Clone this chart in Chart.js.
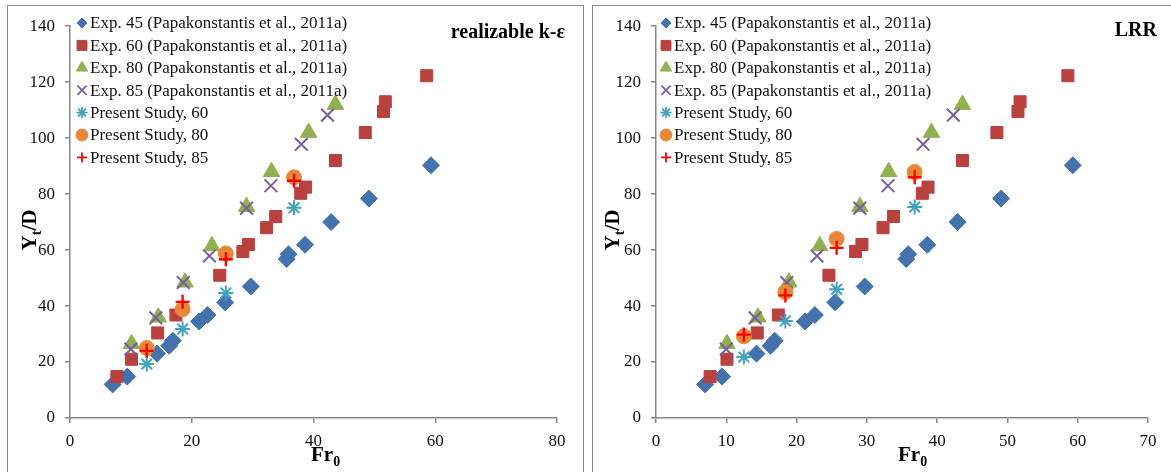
<!DOCTYPE html>
<html>
<head>
<meta charset="utf-8">
<script src="https://cdn.jsdelivr.net/npm/chart.js@4.4.1/dist/chart.umd.min.js"></script>
<style>
  body { margin: 0; background: #fff; width: 1171px; height: 472px; overflow: hidden; position: relative; }
  .box { position: absolute; border: 1px solid #8a8a8a; box-sizing: border-box; background: #fff; }
  canvas { position: absolute; }
</style>
</head>
<body>
<div class="box" style="left:7px; top:5px; width:577px; height:480px;"></div>
<div class="box" style="left:592px; top:5px; width:600px; height:480px;"></div>
<canvas id="leftChart" style="left:8px; top:6px; width:574px; height:466px;" width="574" height="466"></canvas>
<canvas id="rightChart" style="left:593px; top:6px; width:578px; height:466px;" width="578" height="466"></canvas>

<script>
// experimental data (same in both panels)
const exp45X = [7, 9.4, 14.3, 16.3, 16.9, 21.2, 22.6, 25.5, 29.7, 35.6, 35.9, 38.6, 42.9, 49.1, 59.3];
const exp45Y = [12, 14.8, 23, 25.8, 27.6, 34.5, 36.8, 41.3, 47, 56.8, 58.5, 61.9, 70, 78.4, 90.3];

const exp60X = [7.7, 10.1, 14.4, 17.4, 24.6, 28.4, 29.3, 32.3, 33.8, 37.9, 38.7, 43.6, 48.5, 51.5, 51.8, 58.6];
const exp60Y = [14.8, 21, 30.4, 36.8, 51, 59.5, 62, 68, 72, 80.3, 82.5, 92, 102, 109.5, 113, 122.3];

const exp80X = [10.1, 14.5, 18.9, 23.3, 29, 33.1, 39.2, 43.6];
const exp80Y = [26.5, 36, 48.5, 61.5, 75.5, 88, 102, 112];

const exp85X = [10, 14.1, 18.6, 22.9, 29, 33, 38, 42.3];
const exp85Y = [24.6, 35.8, 48.4, 57.9, 75, 83, 97.8, 108.2];

// present study, realizable k-epsilon
const rkeX = [12.6, 18.5, 25.6, 36.8];
const rke60Y = [19.3, 31.8, 44.7, 75.1];
const rke80Y = [25, 38.9, 58.8, 86];
const rke85Y = [24, 41.5, 56.7, 84.8];

// present study, LRR
const lrrX = [12.5, 18.4, 25.7, 36.8];
const lrr60Y = [21.8, 34.7, 46, 75.4];
const lrr80Y = [29.2, 45, 64, 87.9];
const lrr85Y = [29.8, 43.8, 60.8, 86];

const seriesLabels = [
  'Exp. 45 (Papakonstantis et al., 2011a)',
  'Exp. 60 (Papakonstantis et al., 2011a)',
  'Exp. 80 (Papakonstantis et al., 2011a)',
  'Exp. 85 (Papakonstantis et al., 2011a)',
  'Present Study, 60',
  'Present Study, 80',
  'Present Study, 85'
];

const yTicks = [0, 20, 40, 60, 80, 100, 120, 140];

const SERIF = "'Liberation Serif', 'Times New Roman', serif";

function pts(xs, ys) {
  return xs.map((x, i) => ({ x: x, y: ys[i] }));
}

// marker look per series: style, colour, radius, legend radius, line width, filled
const looks = [
  { style: 'rectRot',  color: '#4472ad', r: 8.5, lr: 5,   w: 1, fill: true },
  { style: 'rect',     color: '#b9413e', r: 8.5, lr: 7,   w: 1, fill: true },
  { style: 'triangle', color: '#8fb14f', r: 9.5, lr: 6.5, w: 1, fill: true },
  { style: 'crossRot', color: '#7a5c9c', r: 9,   lr: 6.5, w: 2, fill: false },
  { style: 'star',     color: '#41a3bd', r: 7.5, lr: 5.5, w: 2, fill: false },
  { style: 'circle',   color: '#e8873a', r: 7.5, lr: 6,   w: 1, fill: true },
  { style: 'cross',    color: '#ff0000', r: 7,   lr: 5,   w: 2.4, fill: false }
];

function buildDatasets(dataSets) {
  return dataSets.map((d, i) => {
    const lk = looks[i];
    return {
      label: seriesLabels[i],
      data: d,
      showLine: false,
      pointStyle: lk.style,
      pointRadius: lk.r,
      pointBackgroundColor: lk.fill ? lk.color : 'rgba(0,0,0,0)',
      pointBorderColor: lk.color,
      pointBorderWidth: lk.w,
      order: 10 - i
    };
  });
}

// legend, corner title and axis titles with subscripts
const overlayPlugin = {
  id: 'overlay',
  afterDraw(chart, args, opts) {
    const ctx = chart.ctx;
    ctx.save();

    chart.data.datasets.forEach((ds, i) => {
      const y = opts.legendTop + i * 22.4;
      const lk = looks[i];
      ctx.fillStyle = lk.color;
      ctx.strokeStyle = lk.color;
      ctx.lineWidth = lk.fill ? 1 : 1.8;
      if (Chart.helpers && Chart.helpers.drawPoint) {
        Chart.helpers.drawPoint(ctx, { pointStyle: lk.style, radius: lk.lr, rotation: 0, borderWidth: 1 }, opts.legendX, y);
      }
      ctx.fillStyle = '#111';
      ctx.font = '17px ' + SERIF;
      ctx.textAlign = 'left';
      ctx.textBaseline = 'middle';
      ctx.fillText(ds.label, opts.legendX + 8, y + 1);
    });

    // panel title
    ctx.fillStyle = '#000';
    ctx.font = 'bold 20px ' + SERIF;
    ctx.textAlign = 'right';
    ctx.textBaseline = 'middle';
    ctx.fillText(opts.title, opts.titleX, opts.titleY);

    // x axis title: Fr0
    ctx.textAlign = 'left';
    ctx.textBaseline = 'alphabetic';
    ctx.font = 'bold 21px ' + SERIF;
    const frW = ctx.measureText('Fr').width;
    ctx.fillText('Fr', opts.xTitleX, opts.xTitleY);
    ctx.font = 'bold 14px ' + SERIF;
    ctx.fillText('0', opts.xTitleX + frW, opts.xTitleY + 5);

    // y axis title: Yt/D
    ctx.translate(opts.yTitleX, opts.yTitleY);
    ctx.rotate(-Math.PI / 2);
    ctx.font = 'bold 21px ' + SERIF;
    const yW = ctx.measureText('Y').width;
    ctx.font = 'bold 14px ' + SERIF;
    const tW = ctx.measureText('t').width;
    ctx.font = 'bold 21px ' + SERIF;
    const dW = ctx.measureText('/D').width;
    let x0 = -(yW + tW + dW) / 2;
    ctx.fillText('Y', x0, 7);
    ctx.font = 'bold 14px ' + SERIF;
    ctx.fillText('t', x0 + yW, 12);
    ctx.font = 'bold 21px ' + SERIF;
    ctx.fillText('/D', x0 + yW + tW, 7);

    ctx.restore();
  }
};

function makeChart(id, xMax, xStep, dataSets, overlay, yWidth, rightPad) {
  const axisColor = '#878787';
  return new Chart(document.getElementById(id), {
    type: 'scatter',
    data: { datasets: buildDatasets(dataSets) },
    options: {
      responsive: false,
      animation: false,
      events: [],
      layout: { padding: { top: 15, right: rightPad, left: 0, bottom: 0 } },
      plugins: {
        legend: { display: false },
        tooltip: { enabled: false },
        overlay: overlay
      },
      scales: {
        x: {
          type: 'linear',
          min: 0,
          max: xMax,
          afterFit: (s) => { s.height = 54; },
          ticks: { stepSize: xStep, color: '#111', padding: 8, font: { family: SERIF, size: 17 } },
          grid: { drawOnChartArea: false, drawTicks: true, tickLength: 5, color: axisColor, lineWidth: 1.5 },
          border: { color: axisColor, width: 1.5 }
        },
        y: {
          type: 'linear',
          min: 0,
          max: 140,
          afterFit: (s) => { s.width = yWidth; },
          afterBuildTicks: (s) => { s.ticks = yTicks.map(v => ({ value: v })); },
          ticks: { color: '#111', padding: 10, font: { family: SERIF, size: 17 } },
          grid: { drawOnChartArea: false, drawTicks: true, tickLength: 5, color: axisColor, lineWidth: 1.5 },
          border: { color: axisColor, width: 1.5 }
        }
      }
    },
    plugins: [overlayPlugin]
  });
}

makeChart('leftChart', 80, 20, [
  pts(exp45X, exp45Y),
  pts(exp60X, exp60Y),
  pts(exp80X, exp80Y),
  pts(exp85X, exp85Y),
  pts(rkeX, rke60Y),
  pts(rkeX, rke80Y),
  pts(rkeX, rke85Y)
], {
  legendX: 74, legendTop: 17,
  title: 'realizable k-\u03b5', titleX: 557, titleY: 27,
  xTitleX: 303, xTitleY: 455,
  yTitleX: 21, yTitleY: 224
}, 62, 25);

makeChart('rightChart', 70, 10, [
  pts(exp45X, exp45Y),
  pts(exp60X, exp60Y),
  pts(exp80X, exp80Y),
  pts(exp85X, exp85Y),
  pts(lrrX, lrr60Y),
  pts(lrrX, lrr80Y),
  pts(lrrX, lrr85Y)
], {
  legendX: 73, legendTop: 17,
  title: 'LRR', titleX: 564, titleY: 25,
  xTitleX: 305, xTitleY: 455,
  yTitleX: 19, yTitleY: 224
}, 63, 23);
</script>
</body>
</html>
